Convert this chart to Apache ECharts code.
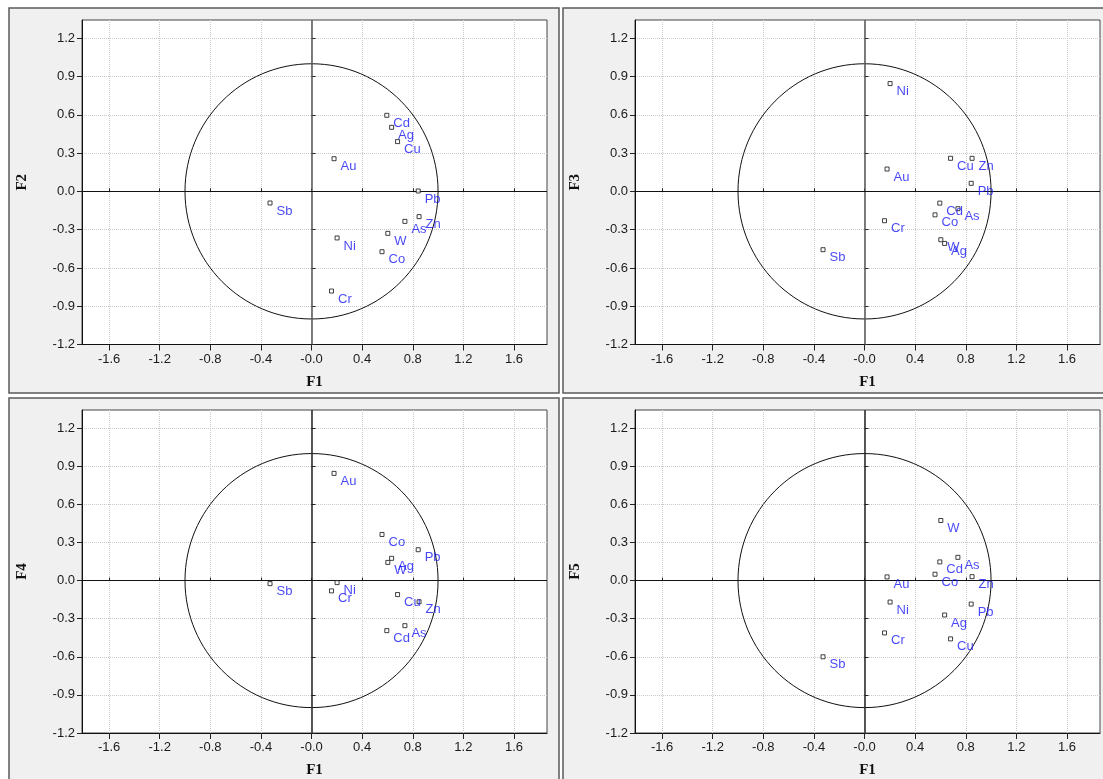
<!DOCTYPE html>
<html>
<head>
<meta charset="utf-8">
<script src="https://cdn.jsdelivr.net/npm/echarts@6/dist/echarts.min.js"></script>
<style>
html,body{margin:0;padding:0;background:#fff;}
#chart{width:1103px;height:779px;}
</style>
</head>
<body>
<div id="chart"></div>
<script>
// Factor loadings of the elements on the first five factors
const elements = ['Au','Ag','As','Cd','Co','Cr','Cu','Ni','Pb','Sb','W','Zn'];
const f1 = [0.178, 0.633, 0.738, 0.595, 0.557, 0.158, 0.680, 0.202, 0.843, -0.328, 0.603, 0.850];
const f2 = [0.256, 0.502, -0.235, 0.596, -0.473, -0.781, 0.390, -0.365, 0.003, -0.091, -0.329, -0.198];
const f3 = [0.175, -0.408, -0.136, -0.092, -0.184, -0.230, 0.259, 0.845, 0.063, -0.457, -0.379, 0.259];
const f4 = [0.844, 0.175, -0.355, -0.394, 0.363, -0.081, -0.110, -0.016, 0.243, -0.024, 0.143, -0.167];
const f5 = [0.029, -0.271, 0.183, 0.147, 0.050, -0.412, -0.459, -0.169, -0.185, -0.600, 0.473, 0.031];

// Axis ticks and their printed labels
const xTicks = [-1.6, -1.2, -0.8, -0.4, 0, 0.4, 0.8, 1.2, 1.6];
const xTickLabels = ['-1.6', '-1.2', '-0.8', '-0.4', '-0.0', '0.4', '0.8', '1.2', '1.6'];
const yTicks = [-1.2, -0.9, -0.6, -0.3, 0, 0.3, 0.6, 0.9, 1.2];
const yTickLabels = ['-1.2', '-0.9', '-0.6', '-0.3', '0.0', '0.3', '0.6', '0.9', '1.2'];

// Correlation circle radius
const circleRadius = 1;

const panels = [
  { yName: 'F2', values: f2 },
  { yName: 'F3', values: f3 },
  { yName: 'F4', values: f4 },
  { yName: 'F5', values: f5 }
];

const X_MIN = -1.814, X_MAX = 1.861, Y_MIN = -1.2, Y_MAX = 1.343;
const gridBoxes = [
  { left: 82, top: 20 },
  { left: 635, top: 20 },
  { left: 82, top: 410 },
  { left: 635, top: 410 }
];
const PLOT_W = 465, PLOT_H = 324.5;

function labelFor(ticks, labels) {
  return function (v) {
    for (let i = 0; i < ticks.length; i++) {
      if (Math.abs(ticks[i] - v) < 1e-6) return labels[i];
    }
    return '';
  };
}

const tickFont = { color: '#1a1a1a', fontFamily: 'Liberation Sans, Arial', fontSize: 13 };
const nameFont = { color: '#111', fontFamily: 'Liberation Serif, Times New Roman', fontWeight: 'bold', fontSize: 15 };

const grid = [], xAxis = [], yAxis = [], series = [];

panels.forEach(function (p, k) {
  grid.push({
    left: gridBoxes[k].left, top: gridBoxes[k].top, width: PLOT_W, height: PLOT_H,
    show: true, backgroundColor: '#fff', borderColor: '#444', borderWidth: 1
  });
  // main axes with labels and outward ticks
  xAxis.push({
    gridIndex: k, type: 'value', min: X_MIN, max: X_MAX,
    name: 'F1', nameLocation: 'middle', nameGap: 30, nameTextStyle: nameFont,
    axisLine: { show: true, onZero: false, lineStyle: { color: '#111', width: 1 } },
    axisTick: { show: true, inside: false, length: 6, customValues: xTicks, lineStyle: { color: '#222' } },
    axisLabel: { show: true, margin: 8, customValues: xTicks, formatter: labelFor(xTicks, xTickLabels), ...tickFont },
    splitLine: { show: true, lineStyle: { color: '#c8c8c8', type: 'dotted', width: 1 } }
  });
  yAxis.push({
    gridIndex: k, type: 'value', min: Y_MIN, max: Y_MAX,
    name: p.yName, nameLocation: 'middle', nameGap: 52, nameTextStyle: nameFont,
    axisLine: { show: true, onZero: false, lineStyle: { color: '#111', width: 1 } },
    axisTick: { show: true, inside: false, length: 5, customValues: yTicks, lineStyle: { color: '#222' } },
    axisLabel: { show: true, margin: 7, customValues: yTicks, formatter: labelFor(yTicks, yTickLabels), ...tickFont },
    splitLine: { show: true, lineStyle: { color: '#c8c8c8', type: 'dotted', width: 1 } }
  });
  // circle and the two zero lines
  const vColor = k < 2 ? '#555' : '#222';
  series.push({
    type: 'custom', xAxisIndex: k, yAxisIndex: k, z: 2, clip: false, silent: true,
    data: [[0, 0, circleRadius]],
    renderItem: function (params, api) {
      const c = api.coord([api.value(0), api.value(1)]);
      const r = api.value(2);
      const px = api.coord([r, 0]);
      const py = api.coord([0, r]);
      return {
        type: 'ellipse',
        shape: { cx: c[0], cy: c[1], rx: px[0] - c[0], ry: c[1] - py[1] },
        style: { fill: 'none', stroke: '#111', lineWidth: 1 }
      };
    },
    markLine: {
      silent: true, symbol: 'none', label: { show: false },
      data: [
        { xAxis: 0, lineStyle: { color: vColor, width: 1.5, type: 'solid' } },
        { yAxis: 0, lineStyle: { color: '#111', width: 1, type: 'solid' } }
      ]
    }
  });
  series.push({
    type: 'scatter', xAxisIndex: k, yAxisIndex: k, z: 5,
    symbol: 'rect', symbolSize: 4,
    itemStyle: { color: '#fff', borderColor: '#111', borderWidth: 1 },
    label: {
      show: true, position: [9, 10.5], align: 'left', verticalAlign: 'middle',
      formatter: function (d) { return d.value[2]; },
      color: '#1818f5', fontFamily: 'Liberation Sans, Arial', fontSize: 13
    },
    data: elements.map(function (el, i) { return [f1[i], p.values[i], el]; })
  });
});

// inward tick marks on the same scales
panels.forEach(function (p, k) {
  xAxis.push({
    gridIndex: k, type: 'value', min: X_MIN, max: X_MAX, position: 'bottom',
    axisLine: { show: false }, axisLabel: { show: false }, splitLine: { show: false },
    axisTick: { show: true, inside: true, length: 3, customValues: xTicks, lineStyle: { color: '#222' } }
  });
  yAxis.push({
    gridIndex: k, type: 'value', min: Y_MIN, max: Y_MAX, position: 'left',
    axisLine: { show: false }, axisLabel: { show: false }, splitLine: { show: false },
    axisTick: { show: true, inside: true, length: 4, customValues: yTicks, lineStyle: { color: '#222' } }
  });
});

// grey panel frames
const frames = [
  { x: 9, y: 8, width: 550, height: 385 },
  { x: 563, y: 8, width: 560, height: 385 },
  { x: 9, y: 398, width: 550, height: 400 },
  { x: 563, y: 398, width: 560, height: 400 }
];
const graphic = frames.map(function (f) {
  return {
    type: 'rect', z: -100, silent: true,
    shape: f,
    style: { fill: '#f0f0f0', stroke: '#5a5a5a', lineWidth: 1.5 }
  };
});

const chart = echarts.init(document.getElementById('chart'), null, { renderer: 'canvas' });
chart.setOption({
  animation: false,
  backgroundColor: '#fff',
  graphic: graphic,
  grid: grid,
  xAxis: xAxis,
  yAxis: yAxis,
  series: series
});
</script>
</body>
</html>
